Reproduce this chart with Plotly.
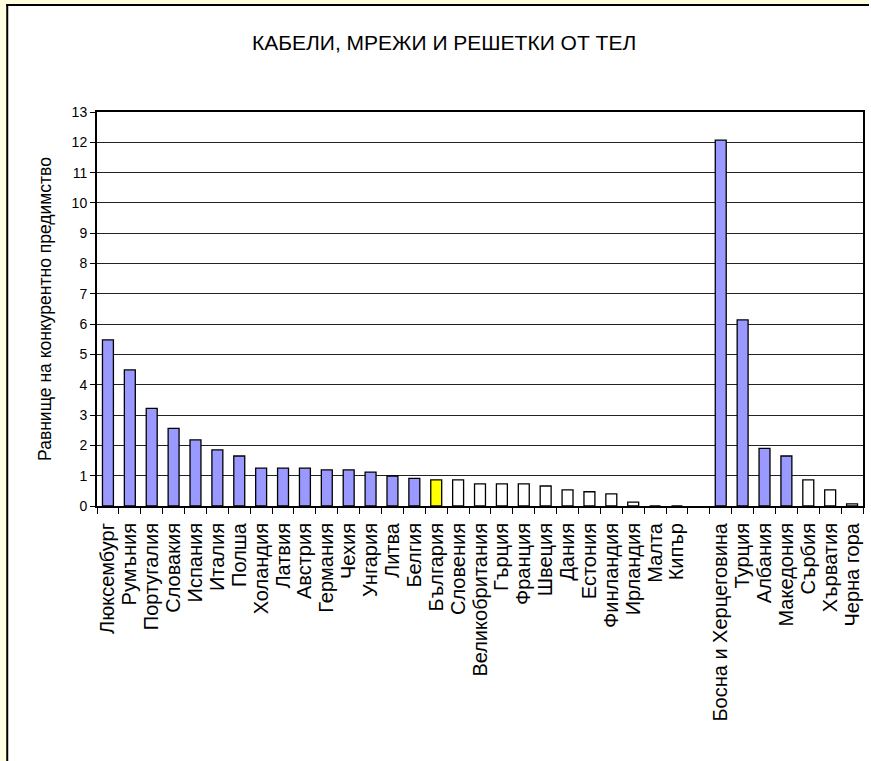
import plotly.graph_objects as go

# Countries (a blank slot separates the EU group from the Western Balkans + Turkey)
countries = [
    "Люксембург", "Румъния", "Португалия", "Словакия", "Испания", "Италия",
    "Полша", "Холандия", "Латвия", "Австрия", "Германия", "Чехия", "Унгария",
    "Литва", "Белгия", "България", "Словения", "Великобритания", "Гърция",
    "Франция", "Швеция", "Дания", "Естония", "Финландия", "Ирландия", "Малта",
    "Кипър", " ", "Босна и Херцеговина", "Турция", "Албания", "Македония",
    "Сърбия", "Хърватия", "Черна гора",
]

# Level of competitive advantage
values = [
    5.48, 4.49, 3.22, 2.56, 2.18, 1.85, 1.65, 1.25, 1.25, 1.25, 1.19, 1.19,
    1.12, 0.99, 0.91, 0.86, 0.86, 0.73, 0.73, 0.73, 0.66, 0.53, 0.47, 0.40,
    0.13, 0.0, 0.0, None, 12.07, 6.14, 1.90, 1.65, 0.86, 0.53, 0.07,
]

# Fill group per country: "a" = advantage, "bg" = Bulgaria, "o" = other
groups = [
    "a", "a", "a", "a", "a", "a", "a", "a", "a", "a", "a", "a", "a", "a", "a",
    "bg", "o", "o", "o", "o", "o", "o", "o", "o", "o", "o", "o", "o",
    "a", "a", "a", "a", "o", "o", "o",
]

title_text = "КАБЕЛИ, МРЕЖИ И РЕШЕТКИ ОТ ТЕЛ"
y_title = "Равнище на конкурентно предимство"
y_ticks = list(range(0, 14))

palette = {"a": "#9999FF", "bg": "#FFFF00", "o": "#FFFFFF"}
bar_colors = [palette[g] for g in groups]

FONT = "Liberation Sans, Arial, sans-serif"
EDGE = "#FFFFE0"

W, H = 871, 761
L, R, T, B = 97, 6, 112, 255
pw, ph = W - L - R, H - T - B


def px_x(x):
    return (x - L) / pw


def px_y(y):
    return 1 - (y - T) / ph


fig = go.Figure()
fig.add_trace(go.Bar(
    x=countries,
    y=values,
    marker=dict(color=bar_colors, line=dict(color="black", width=1.3)),
    hoverinfo="x+y",
))

frame = [
    # pale strips along the left and top edges
    dict(type="rect", xref="paper", yref="paper", layer="below",
         x0=px_x(0), x1=px_x(7), y0=px_y(H), y1=px_y(0),
         fillcolor=EDGE, line=dict(width=0)),
    dict(type="rect", xref="paper", yref="paper", layer="below",
         x0=px_x(0), x1=px_x(W), y0=px_y(5), y1=px_y(0),
         fillcolor=EDGE, line=dict(width=0)),
    # black frame lines of the chart area
    dict(type="line", xref="paper", yref="paper", layer="below",
         x0=px_x(7), x1=px_x(7), y0=px_y(H), y1=px_y(4),
         line=dict(color="black", width=2)),
    dict(type="line", xref="paper", yref="paper", layer="below",
         x0=px_x(6), x1=px_x(W), y0=px_y(5), y1=px_y(5),
         line=dict(color="black", width=2)),
]

fig.update_layout(
    width=W,
    height=H,
    margin=dict(l=L, r=R, t=T, b=B, pad=0),
    paper_bgcolor="white",
    plot_bgcolor="white",
    showlegend=False,
    bargap=0.5,
    font=dict(family=FONT, color="black"),
    title=dict(
        text=title_text,
        x=px_x(445), xref="paper", xanchor="center",
        y=1 - 43 / H, yref="container", yanchor="middle",
        font=dict(size=21, family=FONT, color="black"),
    ),
    shapes=frame,
)

fig.update_xaxes(
    type="category",
    categoryorder="array",
    categoryarray=countries,
    tickmode="array",
    tickvals=countries,
    ticktext=countries,
    tickson="boundaries",
    ticks="outside",
    ticklen=6,
    tickwidth=1,
    tickcolor="black",
    tickangle=-90,
    ticklabelstandoff=7,
    tickfont=dict(size=20, family=FONT, color="black"),
    showline=True,
    linecolor="black",
    linewidth=2,
    mirror=True,
    showgrid=False,
    zeroline=False,
)

fig.update_yaxes(
    range=[0, 13],
    tickvals=y_ticks,
    ticks="outside",
    ticklen=5,
    tickwidth=1,
    tickcolor="black",
    tickfont=dict(size=14, family=FONT, color="black"),
    showline=True,
    linecolor="black",
    linewidth=2,
    mirror=True,
    showgrid=True,
    gridcolor="#222222",
    gridwidth=1,
    zeroline=False,
    title=dict(text=y_title, font=dict(size=17.5, family=FONT, color="black"), standoff=15),
)

fig.write_html("out.html")
